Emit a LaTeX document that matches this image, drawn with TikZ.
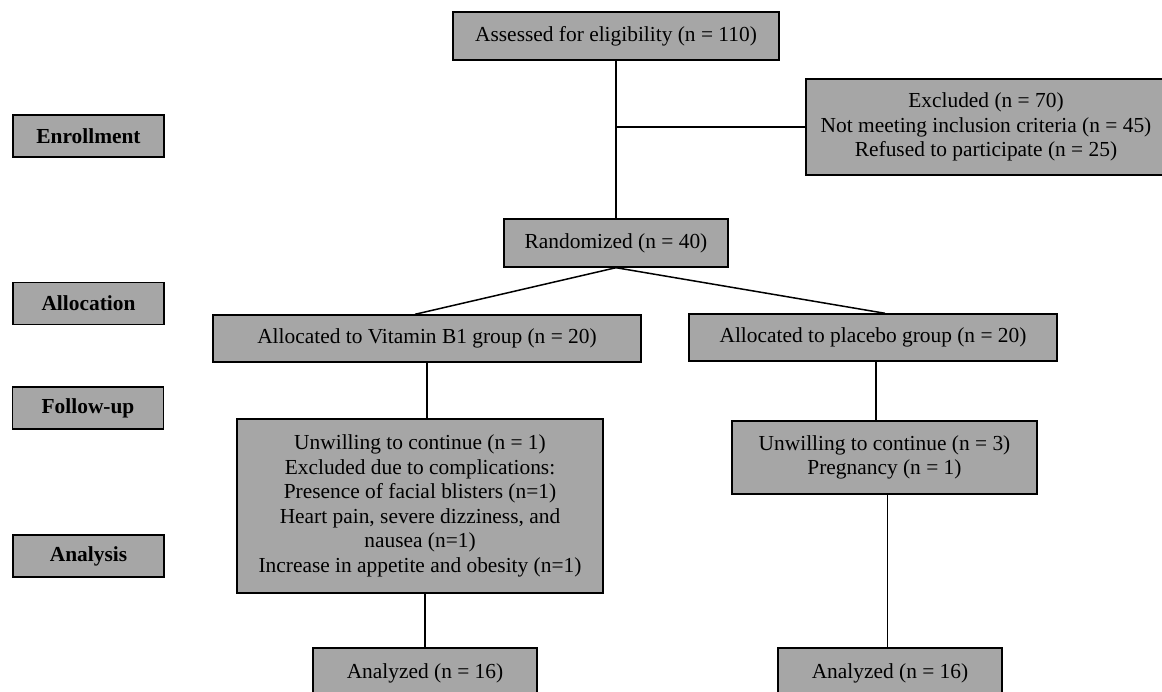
\documentclass[tikz,border=0pt]{standalone}
\usepackage{fontspec}
\setmainfont{Liberation Serif}
\definecolor{boxgray}{RGB}{166,166,166}
\begin{document}
\begin{tikzpicture}[x=1pt,y=-1pt,
  box/.style={draw=black, fill=boxgray, line width=1.4pt, inner sep=0pt, align=center,
    font=\fontsize{21.4}{24.5}\selectfont},
  phase/.style={box, font=\fontsize{21.4}{24.5}\selectfont\bfseries, minimum width=151pt, minimum height=42pt},
  link/.style={line width=1.5pt}]
\useasboundingbox (0,0) rectangle (1162,692);
% phase labels
\node[phase] (enr) at (88.5,136) {Enrollment};
\node[phase] (alc) at (88.5,303.5) {Allocation};
\node[phase] (fol) at (88,408) {Follow-up};
\node[phase] (ana) at (88.5,556) {Analysis};
% main boxes
\node[box, minimum width=326pt, minimum height=48pt] (assess) at (616,36) {Assessed for eligibility (n = 110)};
\node[box, minimum width=360pt, minimum height=96pt] (excl) at (986,127) {Excluded (n = 70)\\Not meeting inclusion criteria (n = 45)\\Refused to participate (n = 25)};
\node[box, minimum width=224pt, minimum height=48pt] (rand) at (616,243) {Randomized (n = 40)};
\node[box, minimum width=428pt, minimum height=47pt] (vit) at (427,338.5) {Allocated to Vitamin B1 group (n = 20)};
\node[box, minimum width=368pt, minimum height=47pt] (plac) at (873,337.5) {Allocated to placebo group (n = 20)};
\node[box, minimum width=366pt, minimum height=174pt] (fuv) at (420,506) {Unwilling to continue (n = 1)\\Excluded due to complications:\\Presence of facial blisters (n=1)\\Heart pain, severe dizziness, and\\nausea (n=1)\\Increase in appetite and obesity (n=1)};
\node[box, minimum width=305pt, minimum height=73pt] (fup) at (884.5,457.5) {Unwilling to continue (n = 3)\\Pregnancy (n = 1)};
\node[box, minimum width=224pt, minimum height=50pt] (anv) at (425,673) {Analyzed (n = 16)};
\node[box, minimum width=224pt, minimum height=50pt] (anp) at (890,673) {Analyzed (n = 16)};
% connectors
\draw[link] (assess.south) -- (rand.north);
\coordinate (jx) at (assess.south |- excl.west);
\draw[link] (jx) -- (excl.west);
\draw[link] (rand.south) -- ([xshift=-12pt]vit.north);
\draw[link] (rand.south) -- ([xshift=12pt]plac.north);
\draw[link] (vit.south) -- (vit.south |- fuv.north);
\draw[link] ([xshift=3pt]plac.south) -- ([xshift=3pt]plac.south |- fup.north);
\draw[link] (anv.north |- fuv.south) -- (anv.north);
\draw[link] ([xshift=3pt]fup.south) -- ([xshift=3pt]fup.south |- anp.north);
\end{tikzpicture}
\end{document}
